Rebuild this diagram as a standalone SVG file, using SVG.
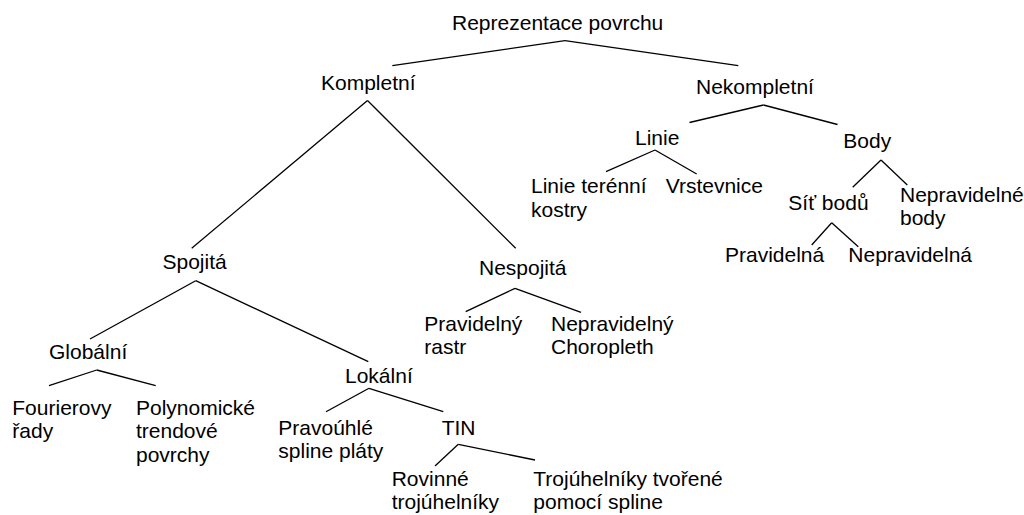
<svg xmlns="http://www.w3.org/2000/svg" width="1024" height="515" viewBox="0 0 1024 515">
<style>
text{font-family:"Liberation Sans",Arial,sans-serif;font-size:21px;fill:#000}
.c line{stroke:#000;stroke-width:1.3;fill:none}
</style>
<rect width="1024" height="515" fill="#fff"/>
<g class="c" id="connectors">
<line x1="565" y1="40.7" x2="392.3" y2="65.7"/>
<line x1="565" y1="40.7" x2="738.3" y2="65.7"/>
<line x1="367.5" y1="100.5" x2="191.7" y2="248.3"/>
<line x1="367.5" y1="100.5" x2="515.7" y2="248.3"/>
<line x1="195.7" y1="280.7" x2="90" y2="339"/>
<line x1="195.7" y1="280.7" x2="368.3" y2="361.7"/>
<line x1="96.7" y1="370" x2="49" y2="385.7"/>
<line x1="96.7" y1="370" x2="155.7" y2="385.7"/>
<line x1="515" y1="288.3" x2="465.7" y2="311.7"/>
<line x1="515" y1="288.3" x2="581" y2="312.3"/>
<line x1="369" y1="388.3" x2="326" y2="411.7"/>
<line x1="369" y1="388.3" x2="443.3" y2="411.7"/>
<line x1="458.3" y1="444.3" x2="435" y2="466"/>
<line x1="458.3" y1="444.3" x2="535" y2="460"/>
<line x1="763.5" y1="105" x2="689.5" y2="122.5"/>
<line x1="763.5" y1="105" x2="837.5" y2="124.5"/>
<line x1="655" y1="150" x2="606" y2="171.7"/>
<line x1="655" y1="150" x2="696.7" y2="174"/>
<line x1="881" y1="160" x2="852.7" y2="187.3"/>
<line x1="881" y1="160" x2="907.3" y2="185"/>
<line x1="831.7" y1="222.7" x2="811.7" y2="245"/>
<line x1="831.7" y1="222.7" x2="858.3" y2="246.7"/>
</g>
<g id="root"><text x="452" y="30">Reprezentace povrchu</text></g>
<g id="kompletni"><text x="321" y="90">Kompletní</text></g>
<g id="nekompletni"><text x="696" y="94.3">Nekompletní</text></g>
<g id="spojita"><text x="162.5" y="269">Spojitá</text></g>
<g id="nespojita"><text x="479" y="275">Nespojitá</text></g>
<g id="globalni"><text x="49" y="359">Globální</text></g>
<g id="lokalni"><text x="345" y="383.3">Lokální</text></g>
<g id="fourier"><text x="12.3" y="415">Fourierovy</text><text x="12.3" y="438">řady</text></g>
<g id="polynom"><text x="136" y="415">Polynomické</text><text x="136" y="438.3">trendové</text><text x="136" y="461.7">povrchy</text></g>
<g id="pravouhle"><text x="278.3" y="435">Pravoúhlé</text><text x="278.3" y="458.3">spline pláty</text></g>
<g id="tin"><text x="441.7" y="435">TIN</text></g>
<g id="rovinne"><text x="391.7" y="486">Rovinné</text><text x="391.7" y="509.3">trojúhelníky</text></g>
<g id="trojuhelniky"><text x="533.3" y="486">Trojúhelníky tvořené</text><text x="533.3" y="509.3">pomocí spline</text></g>
<g id="pravidelny"><text x="424.3" y="331">Pravidelný</text><text x="424.3" y="354.3">rastr</text></g>
<g id="nepravidelny"><text x="551" y="331">Nepravidelný</text><text x="551" y="354.3">Choropleth</text></g>
<g id="linie"><text x="635" y="145">Linie</text></g>
<g id="body"><text x="843.3" y="148.3">Body</text></g>
<g id="linie-terenni"><text x="531" y="193.3">Linie terénní</text><text x="531" y="216.7">kostry</text></g>
<g id="vrstevnice"><text x="665.7" y="193.3">Vrstevnice</text></g>
<g id="sit-bodu"><text x="788.3" y="210">Síť bodů</text></g>
<g id="nepravidelne-body"><text x="900" y="201.7">Nepravidelné</text><text x="900" y="225">body</text></g>
<g id="pravidelna"><text x="725" y="261.7">Pravidelná</text></g>
<g id="nepravidelna"><text x="848.3" y="261.7">Nepravidelná</text></g>
</svg>
